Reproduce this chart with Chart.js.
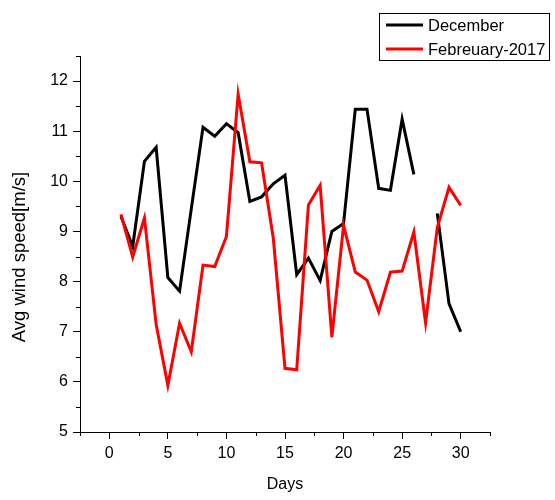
<!DOCTYPE html>
<html>
<head>
<meta charset="utf-8">
<script src="https://cdn.jsdelivr.net/npm/chart.js@4"></script>
<style>
  body { margin: 0; background: #fff; }
  #wrap { width: 555px; height: 500px; }
</style>
</head>
<body>
<div id="wrap"><canvas id="wind" width="555" height="500"></canvas></div>
<script>
// values
const days = [1,2,3,4,5,6,7,8,9,10,11,12,13,14,15,16,17,18,19,20,21,22,23,24,25,26,27,28,29,30];
const december = [9.30, 8.70, 10.40, 10.68, 8.08, 7.81, 9.45, 11.08, 10.90, 11.15,
  10.97, 9.60, 9.69, 9.95, 10.12, 8.14, 8.47, 8.02, 9.00, 9.16,
  11.44, 11.44, 9.86, 9.82, 11.24, 10.14, null, 9.36, 7.56, 7.00];
const february = [9.34, 8.49, 9.27, 7.15, 5.93, 7.17, 6.60, 8.33, 8.30, 8.90,
  11.74, 10.39, 10.37, 8.87, 6.27, 6.24, 9.53, 9.92, 6.89, 9.12,
  8.19, 8.03, 7.40, 8.19, 8.21, 8.99, 7.18, 9.08, 9.88, 9.52];
const seriesNames = ["December", "Febreuary-2017"];
const xTitle = "Days";
const yTitle = "Avg wind speed[m/s]";

const FONT = "'Liberation Sans', Arial, sans-serif";

function toPoints(vals) {
  return days.map((d, i) => ({ x: d, y: vals[i] }));
}

// minor ticks (half steps) drawn shorter than majors
const minorTicks = {
  id: "minorTicks",
  afterDraw(chart) {
    const ctx = chart.ctx;
    ctx.save();
    ctx.strokeStyle = "#000";
    ctx.lineWidth = 1;
    const xs = chart.scales.x, ys = chart.scales.y;
    xs.ticks.forEach((t) => {
      if (Math.abs(t.value % 5) < 1e-6) return;
      const px = Math.round(xs.getPixelForValue(t.value)) + 0.5;
      ctx.beginPath();
      ctx.moveTo(px, xs.top);
      ctx.lineTo(px, xs.top + 4);
      ctx.stroke();
    });
    ys.ticks.forEach((t) => {
      if (Number.isInteger(t.value)) return;
      const py = Math.round(ys.getPixelForValue(t.value)) + 0.5;
      ctx.beginPath();
      ctx.moveTo(ys.right, py);
      ctx.lineTo(ys.right - 4, py);
      ctx.stroke();
    });
    ctx.restore();
  }
};

// y axis title, sitting a bit below the middle of the axis like the original
const yAxisTitle = {
  id: "yAxisTitle",
  afterDraw(chart) {
    const ctx = chart.ctx;
    const ys = chart.scales.y;
    ctx.save();
    ctx.translate(20, (ys.top + ys.bottom) / 2 + 13);
    ctx.rotate(-Math.PI / 2);
    ctx.fillStyle = "#000";
    ctx.font = "18.5px " + FONT;
    ctx.textAlign = "center";
    ctx.textBaseline = "middle";
    ctx.fillText(yTitle, 0, 0);
    ctx.restore();
  }
};

// boxed legend in the top right corner
const boxLegend = {
  id: "boxLegend",
  afterDraw(chart) {
    const ctx = chart.ctx;
    ctx.save();
    ctx.fillStyle = "#fff";
    ctx.fillRect(379, 13, 170, 47);
    ctx.strokeStyle = "#000";
    ctx.lineWidth = 1;
    ctx.strokeRect(379.5, 13.5, 170, 47);
    chart.data.datasets.forEach((ds, i) => {
      const y = 25 + i * 24;
      ctx.strokeStyle = ds.borderColor;
      ctx.lineWidth = 3;
      ctx.beginPath();
      ctx.moveTo(386, y);
      ctx.lineTo(423, y);
      ctx.stroke();
      ctx.fillStyle = "#000";
      ctx.font = "16.5px " + FONT;
      ctx.textBaseline = "middle";
      ctx.fillText(ds.label, 428, y + 1);
    });
    ctx.restore();
  }
};

new Chart(document.getElementById("wind"), {
  type: "line",
  data: {
    datasets: [
      {
        label: seriesNames[0],
        data: toPoints(december),
        borderColor: "#000000",
        borderWidth: 3,
        pointRadius: 0,
        spanGaps: false,
        order: 1,
      },
      {
        label: seriesNames[1],
        data: toPoints(february),
        borderColor: "#ff0000",
        borderWidth: 3,
        pointRadius: 0,
        order: 0,
      },
    ],
  },
  options: {
    responsive: false,
    animation: false,
    layout: { padding: { left: 0, right: 65, top: 56, bottom: 0 } },
    plugins: { legend: { display: false }, tooltip: { enabled: false } },
    scales: {
      x: {
        type: "linear",
        min: -2.5,
        max: 32.5,
        afterFit(scale) { scale.height = 68; },
        border: { display: true, color: "#000", width: 1 },
        grid: {
          drawOnChartArea: false,
          drawTicks: true,
          tickLength: 7,
          tickColor: (c) => (Math.abs(c.tick.value % 5) < 1e-6 ? "#000" : "rgba(0,0,0,0)"),
        },
        ticks: {
          stepSize: 2.5,
          autoSkip: false,
          maxRotation: 0,
          padding: 5,
          color: "#000",
          font: { family: FONT, size: 16 },
          callback: (v) => (Math.abs(v % 5) < 1e-6 ? String(v) : ""),
        },
        title: {
          display: true,
          text: xTitle,
          color: "#000",
          font: { family: FONT, size: 16 },
          padding: { top: 0, bottom: 6 },
        },
      },
      y: {
        min: 5,
        max: 12.5,
        afterFit(scale) { scale.width = 80; },
        border: { display: true, color: "#000", width: 1 },
        grid: {
          drawOnChartArea: false,
          drawTicks: true,
          tickLength: 7,
          tickColor: (c) => (Number.isInteger(c.tick.value) ? "#000" : "rgba(0,0,0,0)"),
        },
        ticks: {
          stepSize: 0.5,
          autoSkip: false,
          padding: 5,
          color: "#000",
          font: { family: FONT, size: 16 },
          callback: (v) => (Number.isInteger(v) ? String(v) : ""),
        },
      },
    },
  },
  plugins: [minorTicks, yAxisTitle, boxLegend],
});
</script>
</body>
</html>
